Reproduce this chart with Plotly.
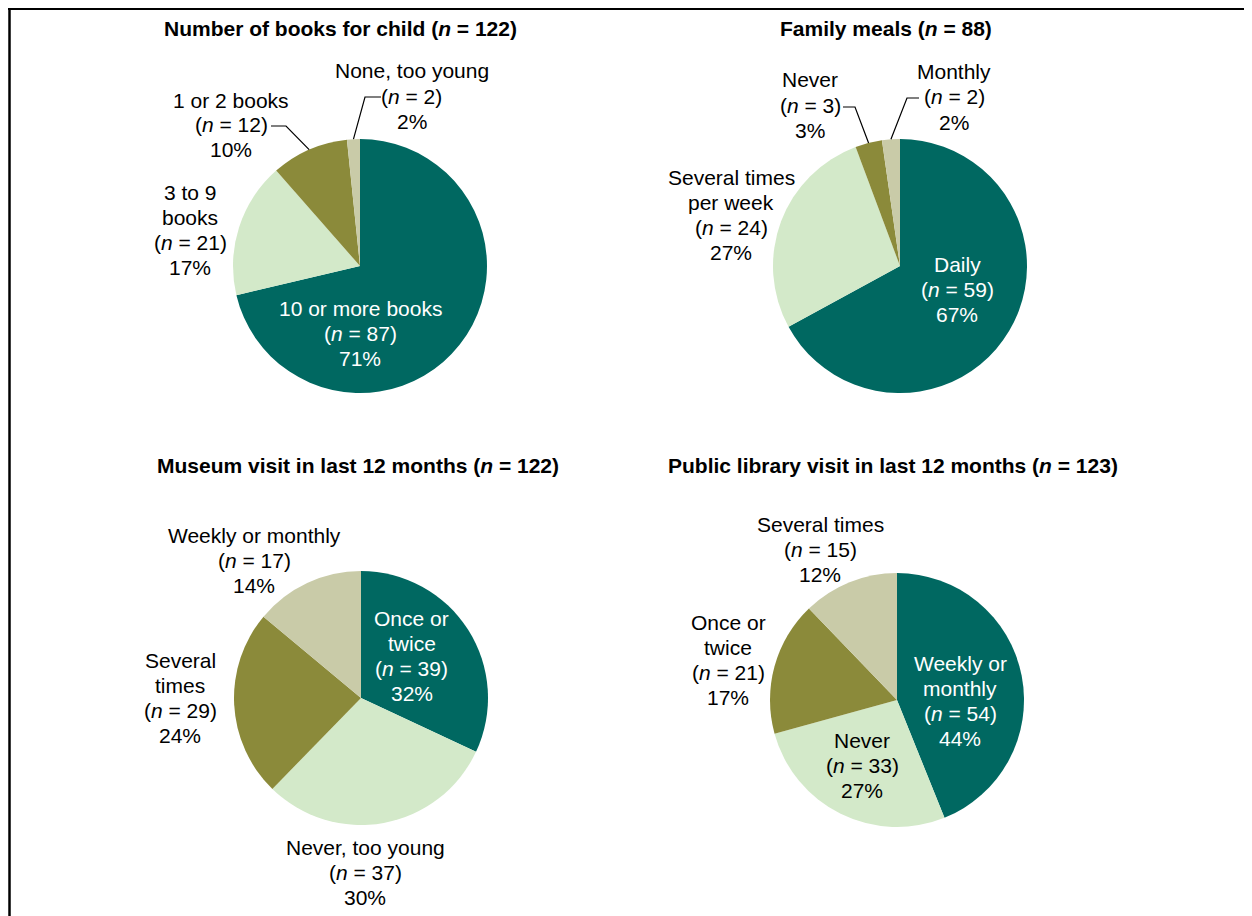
import math
import plotly.graph_objects as go

W, H = 1252, 916
OFF = 8  # page body margin offset

# ---------------- data ----------------
titles = [
    "Number of books for child (<i>n</i> = 122)",
    "Family meals (<i>n</i> = 88)",
    "Museum visit in last 12 months (<i>n</i> = 122)",
    "Public library visit in last 12 months (<i>n</i> = 123)",
]
books_labels = ["10 or more books", "3 to 9<br>books", "1 or 2 books", "None, too young"]
books_n = [87, 21, 12, 2]
books_pct = [71, 17, 10, 2]

meals_labels = ["Daily", "Several times<br>per week", "Never", "Monthly"]
meals_n = [59, 24, 3, 2]
meals_pct = [67, 27, 3, 2]

museum_labels = ["Once or<br>twice", "Never, too young", "Several<br>times", "Weekly or monthly"]
museum_n = [39, 37, 29, 17]
museum_pct = [32, 30, 24, 14]

library_labels = ["Weekly or<br>monthly", "Never", "Once or<br>twice", "Several times"]
library_n = [54, 33, 21, 15]
library_pct = [44, 27, 17, 12]

# ---------------- styling / layout ----------------
colors = ["#006861", "#d3e9c9", "#8b8a3a", "#c9cba8"]
font_family = "Liberation Sans, Arial, sans-serif"
LABEL_SIZE = 21
TITLE_SIZE = 21
LINE_GAP = 25

pies = [
    dict(labels=books_labels, n=books_n, pct=books_pct, c=(360, 266), r=127,
         title_xy=(340, 28),
         label_xy=[(360, 333), (190, 230), (231, 125), (412, 96)],
         leaders={2: [(271, 126), (286, 126)], 3: [(381, 97), (365, 97)]}),
    dict(labels=meals_labels, n=meals_n, pct=meals_pct, c=(900, 266), r=127,
         title_xy=(886, 28),
         label_xy=[(957, 289), (731, 215), (810, 105), (954, 97)],
         leaders={2: [(843, 107), (855, 107)], 3: [(919, 98), (907, 98)]}),
    dict(labels=museum_labels, n=museum_n, pct=museum_pct, c=(361, 698), r=127,
         title_xy=(358, 465),
         label_xy=[(412, 656), (365, 872), (180, 698), (254, 560)],
         leaders={}),
    dict(labels=library_labels, n=library_n, pct=library_pct, c=(897, 700), r=127,
         title_xy=(893, 465),
         label_xy=[(960, 701), (862, 765), (728, 660), (820, 549)],
         leaders={}),
]

fig = go.Figure()
annotations = []
shapes = []


def px(x):
    return (x - OFF) / W


def py(y):
    return 1 - (y - OFF) / H


for k, p in enumerate(pies):
    cx, cy = p["c"]
    r = p["r"]
    fig.add_trace(go.Pie(
        labels=[l.replace("<br>", " ") for l in p["labels"]],
        values=p["n"],
        sort=False,
        direction="clockwise",
        rotation=0,
        marker=dict(colors=colors, line=dict(width=0)),
        textinfo="none",
        hoverinfo="skip",
        showlegend=False,
        domain=dict(x=[px(cx - r), px(cx + r)], y=[py(cy + r), py(cy - r)]),
    ))
    tx, ty = p["title_xy"]
    annotations.append(dict(
        x=px(tx), y=py(ty), xref="paper", yref="paper", showarrow=False,
        text="<b>" + titles[k] + "</b>", xanchor="center", yanchor="middle",
        font=dict(family=font_family, size=TITLE_SIZE, color="black"),
    ))
    total = sum(p["n"])
    cum = 0
    for i, (lab, n, pc) in enumerate(zip(p["labels"], p["n"], p["pct"])):
        mid = (cum + n / 2) / total
        cum += n
        lx, ly = p["label_xy"][i]
        lines = lab.split("<br>") + [f"(<i>n</i> = {n})", f"{pc}%"]
        nl = len(lines)
        for j, line in enumerate(lines):
            annotations.append(dict(
                x=px(lx), y=py(ly + (j - (nl - 1) / 2) * LINE_GAP),
                xref="paper", yref="paper", showarrow=False,
                text=line, xanchor="center", yanchor="middle", align="center",
                font=dict(family=font_family, size=LABEL_SIZE,
                          color="white" if i == 0 else "black"),
            ))
        if i in p["leaders"]:
            ang = 2 * math.pi * mid
            ex = cx + r * math.sin(ang)
            ey = cy - r * math.cos(ang)
            pts = p["leaders"][i] + [(ex, ey)]
            path = "M " + " L ".join(f"{px(x)},{py(y)}" for x, y in pts)
            shapes.append(dict(type="path", path=path, xref="paper", yref="paper",
                               line=dict(color="black", width=1.2)))

# frame (left and top edges)
shapes.append(dict(type="line", xref="paper", yref="paper",
                   x0=1.5 / W, x1=1.5 / W, y0=py(9), y1=-0.05,
                   line=dict(color="black", width=2.5)))
shapes.append(dict(type="line", xref="paper", yref="paper",
                   x0=0, x1=1.05, y0=py(9), y1=py(9),
                   line=dict(color="black", width=2)))

fig.update_layout(
    width=W, height=H,
    margin=dict(l=0, r=0, t=0, b=0),
    paper_bgcolor="white", plot_bgcolor="white",
    annotations=annotations, shapes=shapes,
    font=dict(family=font_family),
)

fig.write_html("out.html")
